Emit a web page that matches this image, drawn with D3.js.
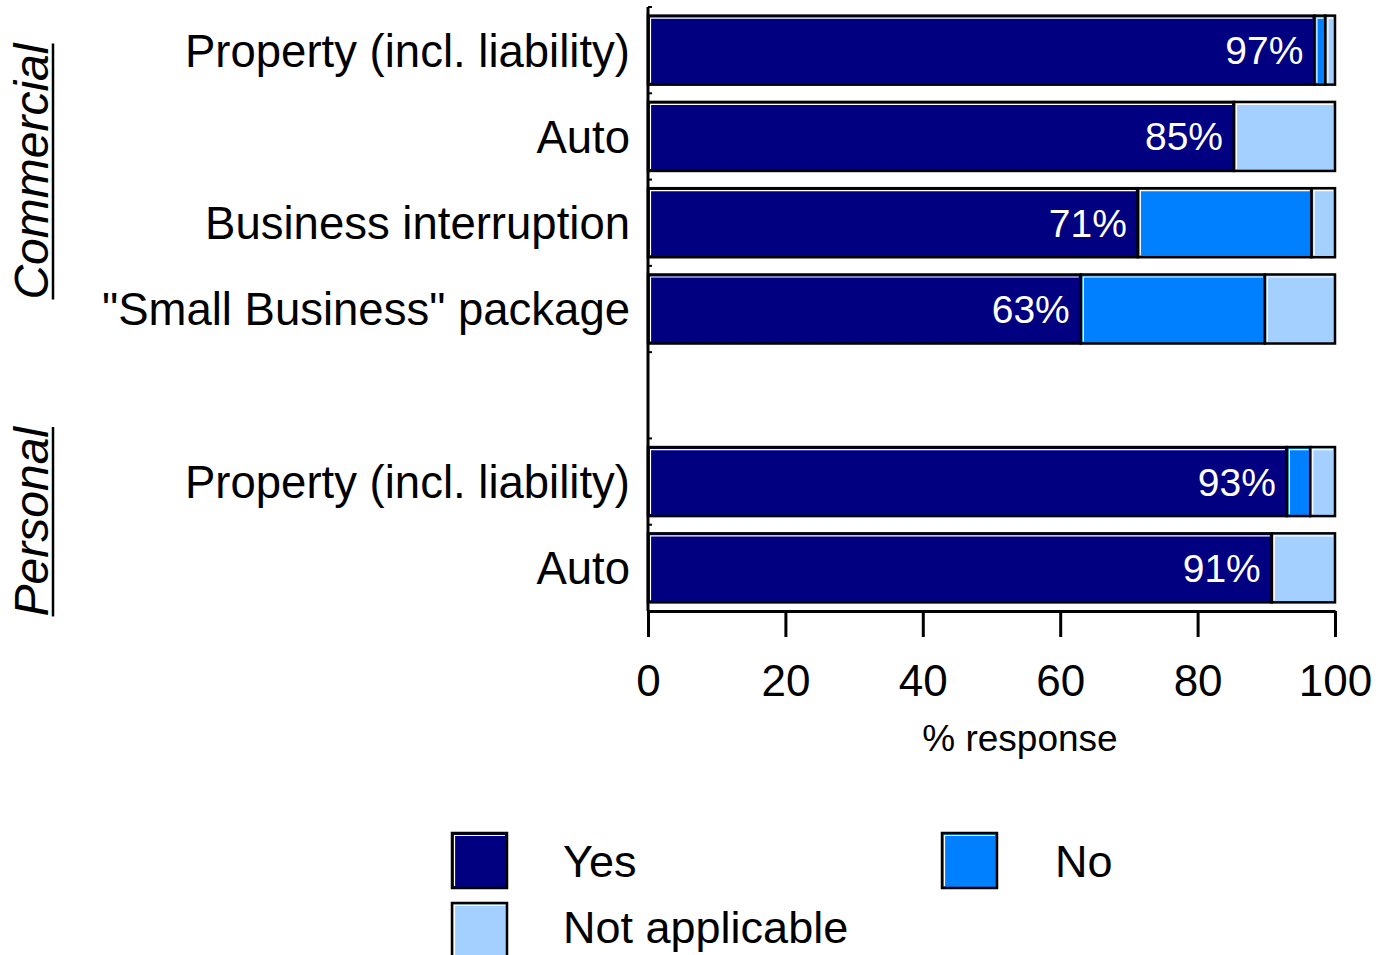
<!DOCTYPE html>
<html>
<head>
<meta charset="utf-8">
<script src="https://cdn.jsdelivr.net/npm/d3@7"></script>
<style>
  html, body { margin: 0; padding: 0; background: #fff; }
  svg { display: block; }
  text { font-family: Arial, "Liberation Sans", sans-serif; }
</style>
</head>
<body>
<svg id="chart" width="1381" height="955"></svg>
<script>
// Survey rows (top to bottom); the empty slot separates the two groups
const rowKeys = ["c1", "c2", "c3", "c4", "gap", "p1", "p2"];
const rowLabels = ["Property (incl. liability)", "Auto", "Business interruption",
                   "\"Small Business\" package", "", "Property (incl. liability)", "Auto"];
const yesValues = [97, 85.3, 71.3, 63, null, 93, 90.8];
const noValues  = [1.6, 0, 25.3, 26.8, null, 3.4, 0];
const naValues  = [1.4, 14.7, 3.4, 10.2, null, 3.6, 9.2];
const valueLabels = ["97%", "85%", "71%", "63%", "", "93%", "91%"];

const seriesNames = ["Yes", "No", "Not applicable"];
const seriesColors = ["#000080", "#0080ff", "#a4d0ff"];

const groupNames = ["Commercial", "Personal"];
const groupRows = [["c1", "c4"], ["p1", "p2"]];

const xTicks = [0, 20, 40, 60, 80, 100];
const xTitle = "% response";

const svg = d3.select("#chart");

const x = d3.scaleLinear().domain([0, 100]).range([648, 1335]);
const y = d3.scaleBand().domain(rowKeys).range([7, 611])
  .paddingInner(0.2).paddingOuter(0.1);

// stacked segments
const rows = rowKeys.map((k, i) => ({
  key: k, label: rowLabels[i],
  vals: [yesValues[i], noValues[i], naValues[i]], text: valueLabels[i]
})).filter(r => r.vals[0] !== null);

const segs = [];
rows.forEach(r => {
  let acc = 0;
  r.vals.forEach((v, s) => {
    if (v > 0) segs.push({ key: r.key, s, x0: acc, x1: acc + v });
    acc += v;
  });
});

const segG = svg.append("g");
segG.selectAll("rect.seg").data(segs).join("rect")
  .attr("class", "seg")
  .attr("x", d => x(d.x0))
  .attr("y", d => y(d.key))
  .attr("width", d => x(d.x1) - x(d.x0))
  .attr("height", y.bandwidth())
  .attr("fill", d => seriesColors[d.s])
  .attr("stroke", "#000")
  .attr("stroke-width", 2.5);

// thin white bevel along top and left edge of each segment
segG.selectAll("path.hl").data(segs).join("path")
  .attr("class", "hl")
  .attr("d", d => {
    const x0 = x(d.x0) + 2.5, y0 = y(d.key) + 2.5;
    const x1 = x(d.x1) - 2, y1 = y(d.key) + y.bandwidth() - 2;
    return `M${x0},${y1}V${y0}H${x1}`;
  })
  .attr("fill", "none")
  .attr("stroke", "#fff")
  .attr("stroke-width", 1.2);

// value labels inside the Yes segment
svg.append("g").selectAll("text").data(rows).join("text")
  .attr("x", d => x(d.vals[0]) - 11)
  .attr("y", d => y(d.key) + y.bandwidth() / 2)
  .attr("dy", "0.36em")
  .attr("text-anchor", "end")
  .attr("fill", "#fff")
  .attr("font-size", 39)
  .text(d => d.text);

// category labels
svg.append("g").selectAll("text").data(rows).join("text")
  .attr("x", 630)
  .attr("y", d => y(d.key) + y.bandwidth() / 2)
  .attr("dy", "0.36em")
  .attr("text-anchor", "end")
  .attr("fill", "#000")
  .attr("font-size", 45.5)
  .text(d => d.label);

// left axis line with small inward ticks at row boundaries
const yAxis = svg.append("g");
yAxis.append("line")
  .attr("x1", 648).attr("x2", 648)
  .attr("y1", y.range()[0]).attr("y2", 611)
  .attr("stroke", "#000").attr("stroke-width", 3);
const bounds = rowKeys.map(k => y(k) - y.step() * y.paddingInner() / 2);
yAxis.selectAll("line.tk").data(bounds).join("line")
  .attr("class", "tk")
  .attr("x1", 648).attr("x2", 652)
  .attr("y1", d => d).attr("y2", d => d)
  .attr("stroke", "#000").attr("stroke-width", 2);

// bottom axis
const xAxisG = svg.append("g")
  .attr("transform", "translate(0,611)")
  .call(d3.axisBottom(x).tickValues(xTicks).tickSize(26).tickPadding(28).tickSizeOuter(0));
xAxisG.select(".domain").attr("stroke", "#000").attr("stroke-width", 3);
xAxisG.selectAll(".tick line").attr("stroke", "#000").attr("stroke-width", 3);
xAxisG.selectAll(".tick text")
  .attr("font-size", 44)
  .attr("font-family", "Arial, 'Liberation Sans', sans-serif")
  .attr("fill", "#000");

svg.append("text")
  .attr("x", 1020).attr("y", 751)
  .attr("text-anchor", "middle")
  .attr("font-size", 37)
  .attr("fill", "#000")
  .text(xTitle);

// group labels, rotated and underlined
groupNames.forEach((g, i) => {
  const [a, b] = groupRows[i];
  const cy = (y(a) + y(b) + y.bandwidth()) / 2 - (i === 0 ? 8 : 3);
  const t = svg.append("text")
    .attr("transform", `translate(48,${cy}) rotate(-90)`)
    .attr("text-anchor", "middle")
    .attr("font-size", 48)
    .attr("font-style", "italic")
    .attr("fill", "#000")
    .text(g);
  const len = t.node().getComputedTextLength();
  svg.append("line")
    .attr("x1", 53).attr("x2", 53)
    .attr("y1", cy - len / 2).attr("y2", cy + len / 2)
    .attr("stroke", "#000").attr("stroke-width", 2.5);
});

// legend
const legendItems = [
  { name: seriesNames[0], color: seriesColors[0], bx: 452, by: 833, tx: 563, ty: 861 },
  { name: seriesNames[1], color: seriesColors[1], bx: 942, by: 833, tx: 1055, ty: 861 },
  { name: seriesNames[2], color: seriesColors[2], bx: 452, by: 903, tx: 563, ty: 927 }
];
const lg = svg.append("g").selectAll("g").data(legendItems).join("g");
lg.append("rect")
  .attr("x", d => d.bx).attr("y", d => d.by)
  .attr("width", 55).attr("height", 55)
  .attr("fill", d => d.color)
  .attr("stroke", "#000").attr("stroke-width", 2.5);
lg.append("path")
  .attr("d", d => `M${d.bx + 2.5},${d.by + 53}V${d.by + 2.5}H${d.bx + 53}`)
  .attr("fill", "none").attr("stroke", "#fff").attr("stroke-width", 1.2);
lg.append("text")
  .attr("x", d => d.tx).attr("y", d => d.ty)
  .attr("dy", "0.36em")
  .attr("font-size", 45)
  .attr("fill", "#000")
  .text(d => d.name);
</script>
</body>
</html>
